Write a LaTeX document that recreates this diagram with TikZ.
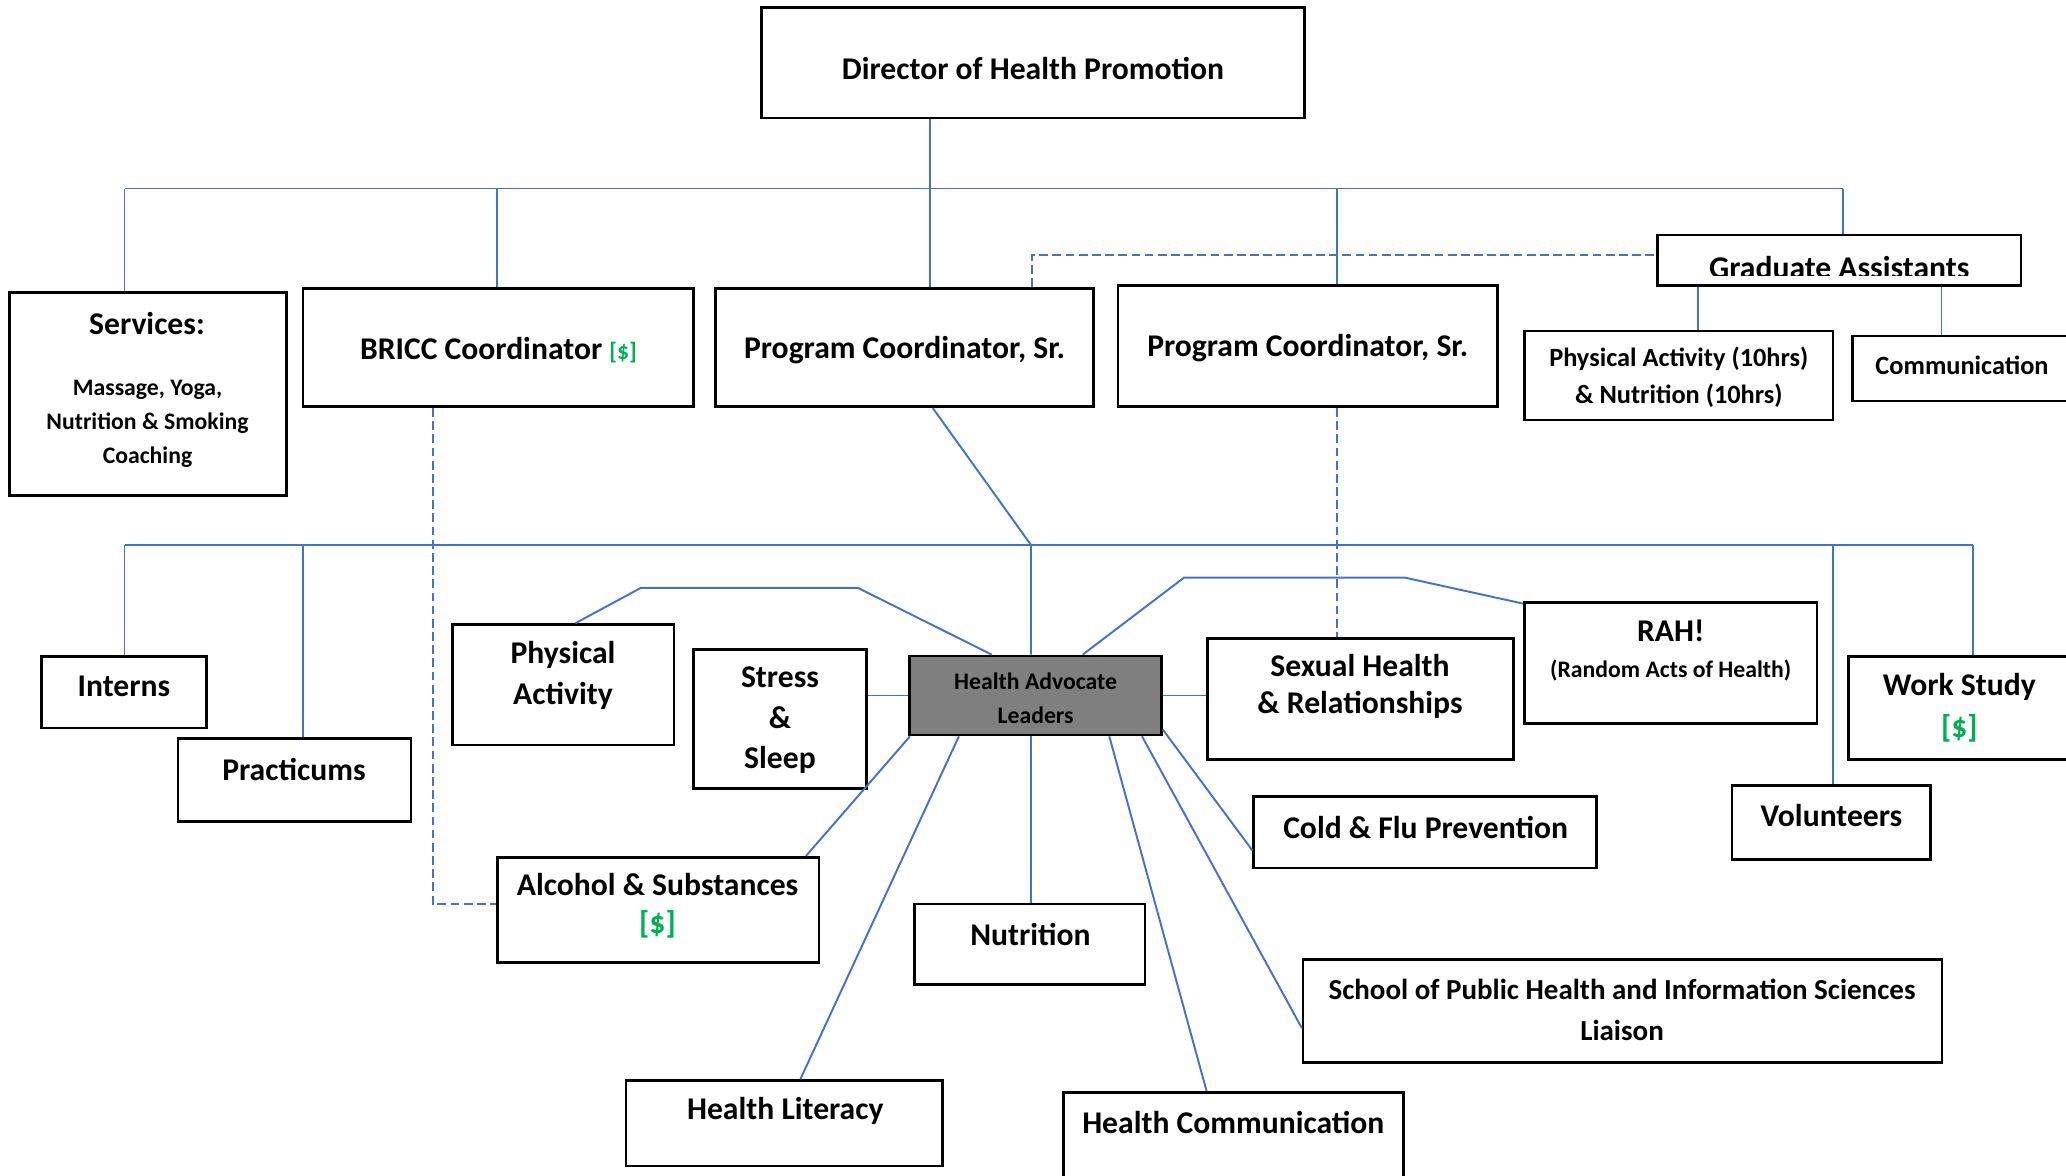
\documentclass[tikz,border=0pt]{standalone}
\usepackage{fontspec}
\setmainfont{Carlito}
\usetikzlibrary{fit}

\definecolor{linkblue}{HTML}{4472C4}
\definecolor{feegreen}{HTML}{00B050}
\definecolor{leadgray}{HTML}{7F7F7F}
\newcommand{\fee}{{\color{feegreen}[\$]}}

\tikzset{
  box/.style={draw=black, line width=1.5pt, fill=white, inner sep=0pt},
  link/.style={draw=linkblue, line width=1.1pt},
  dashlink/.style={link, dash pattern=on 5pt off 2.5pt},
  txt/.style={inner sep=0pt, align=center, font=\bfseries\fontsize{18}{23}\selectfont},
  midtxt/.style={txt, font=\bfseries\fontsize{15}{21}\selectfont},
  smalltxt/.style={txt, font=\bfseries\fontsize{13.5}{19.3}\selectfont}
}

\begin{document}
\begin{tikzpicture}[x=0.02cm, y=-0.02cm]
\useasboundingbox (0,0) rectangle (2066,1176);

% staff boxes
\node[box, fit={(761.6,7.3) (1304.4,118)}] (dir) {};
\node[box, fit={(9.2,292.7) (286.6,495.7)}] (srv) {};
\node[box, fit={(303,288.3) (693.7,406.7)}] (bricc) {};
\node[box, fit={(715.5,288.3) (1093.6,406.7)}] (pca) {};
\node[box, fit={(1118,285.7) (1497.5,406.7)}] (pcb) {};
\node[box, fit={(1657.5,235) (2021,285.7)}] (ga) {};
\node[box, fit={(1524.5,331) (1833,420)}] (gpa) {};
\node[box, fit={(1852.5,336) (2071.5,401)}] (gcom) {};

\node[txt] (dirtxt) at (1033,68.5) {Director of Health Promotion};
\node[txt] (srvhead) at (147,324) {Services:};
\node[smalltxt] (srvtxt) at (147.5,423.6) {Massage, Yoga,\\Nutrition \& Smoking\\Coaching};
\node[txt] (brictxt) at (498.4,350.5) {BRICC Coordinator {\fontsize{13.5}{16}\selectfont\fee}};
\node[txt] (pcatxt) at (904.6,350.5) {Program Coordinator, Sr.};
\node[txt] (pcbtxt) at (1307.8,347.8) {Program Coordinator, Sr.};
\begin{scope}
  \clip (1657.5,235) rectangle (2021,275);
  \node[txt, anchor=base] (gatxt) at (1839.3,278) {Graduate Assistants};
\end{scope}
\node[midtxt] (gpatxt) at (1678.8,376.9) {Physical Activity (10hrs)\\\& Nutrition (10hrs)};
\node[midtxt] (gcomtxt) at (1962,365) {Communication};

% student boxes
\node[box, fit={(41.5,656.4) (206.2,727.9)}] (intn) {};
\node[box, fit={(177.9,738.8) (411,821.6)}] (prac) {};
\node[box, fit={(452.6,624.6) (674,745.1)}] (phys) {};
\node[box, fit={(693.7,649.7) (866.3,788.2)}] (stress) {};
\node[box, fill=leadgray, fit={(909.8,656) (1161.5,735)}] (hal) {};
\node[box, fit={(1207.6,638.8) (1513.3,759.7)}] (sex) {};
\node[box, fit={(1524.5,602.8) (1817,723.7)}] (rah) {};
\node[box, fit={(1848.6,656.4) (2070,759.3)}] (work) {};
\node[box, fit={(1732,785.7) (1930.3,859.7)}] (vol) {};
\node[box, fit={(1253.7,796.5) (1596.3,868.1)}] (cold) {};
\node[box, fit={(497.4,857.2) (818.9,962.2)}] (alc) {};
\node[box, fit={(914.4,904) (1145,984.4)}] (nut) {};
\node[box, fit={(1303.1,959.7) (1942.1,1062.6)}] (sph) {};
\node[box, fit={(625.9,1080.6) (942.7,1166)}] (lit) {};
\node[box, fit={(1063.3,1092.3) (1403.2,1190)}] (hcom) {};

\node[txt] (inttxt) at (123.9,686.5) {Interns};
\node[txt] (practxt) at (294,769.5) {Practicums};
\node[txt] (phystxt) at (563,675.3) {Physical\\Activity};
\node[txt] (strtxt) at (780,720.3) {Stress\\\&\\Sleep};
\node[smalltxt] (haltxt) at (1035.6,698.4) {Health Advocate\\Leaders};
\node[txt, font=\bfseries\fontsize{18}{21}\selectfont] (sextxt) at (1360,686.5) {Sexual Health\\\& Relationships};
\node[txt] (rahtxt) at (1670.7,631.1) {RAH!};
\node[smalltxt] (rahsub) at (1670.7,670.7) {(Random Acts of Health)};
\node[txt, font=\bfseries\fontsize{18}{24}\selectfont] (worktxt) at (1959.3,707.5) {Work Study\\\fee};
\node[txt] (voltxt) at (1831.5,815.6) {Volunteers};
\node[txt] (coldtxt) at (1425.6,827.5) {Cold \& Flu Prevention};
\node[txt, font=\bfseries\fontsize{18}{21.7}\selectfont] (alctxt) at (657.5,905.9) {Alcohol \& Substances\\\fee};
\node[txt] (nuttxt) at (1030.4,934.2) {Nutrition};
\node[txt, font=\bfseries\fontsize{16.5}{23.2}\selectfont] (sphtxt) at (1622,1010) {School of Public Health and Information Sciences\\Liaison};
\node[txt] (littxt) at (785.3,1110.7) {Health Literacy};
\node[txt] (hcomtxt) at (1233.3,1122.6) {Health Communication};

% upper tree
\coordinate (tl) at (124.5,188.5);
\coordinate (tb) at (496.7,188.5);
\coordinate (tp) at (929.6,188.5);
\coordinate (tq) at (1336.7,188.5);
\coordinate (tr) at (1843.3,188.5);
\draw[link] (tl) -- (tr);
\draw[link] (tl) -- (tl |- srv.north);
\draw[link] (tb) -- (tb |- bricc.north);
\draw[link] (tp |- dir.south) -- (tp |- pca.north);
\draw[link] (tq) -- (tq |- pcb.north);
\draw[link] (tr) -- (tr |- ga.north);

\coordinate (gx) at (1698.4,300);
\coordinate (gy) at (1941.5,300);
\draw[link] (gx |- ga.south) -- (gx |- gpa.north);
\draw[link] (gy |- ga.south) -- (gy |- gcom.north);

% dotted reporting lines
\coordinate (da) at (1031.7,255);
\coordinate (db) at (432.8,904.1);
\draw[dashlink] (da |- pca.north) -- (da) -- (da -| ga.west);
\draw[dashlink] (db |- bricc.south) -- (db) -- (db -| alc.west);
\draw[dashlink] (tq |- pcb.south) -- (tq |- sex.north);

% lower tree
\coordinate (j1) at (1031,545);
\coordinate (ml) at (124.5,545);
\coordinate (mp) at (303,545);
\coordinate (mv) at (1832.8,545);
\coordinate (mr) at (1973,545);
\draw[link] (pca.295) -- (j1) -- (j1 |- hal.north);
\draw[link] (ml) -- (mr);
\draw[link] (ml) -- (ml |- intn.north);
\draw[link] (mp) -- (mp |- prac.north);
\draw[link] (mv) -- (mv |- vol.north);
\draw[link] (mr) -- (mr |- work.north);

% health advocate teams
\coordinate (pa1) at (857.7,587.8);
\coordinate (pa2) at (641,587.8);
\coordinate (ra1) at (1183.9,577.7);
\coordinate (ra2) at (1405.2,577.7);
\draw[link] (hal.137) -- (pa1) -- (pa2) -- (phys.79);
\draw[link] (hal.41) -- (ra1) -- (ra2) -- (rah.158);
\draw[link] (hal.west) -- (hal.west -| stress.east);
\draw[link] (hal.east) -- (hal.east -| sex.west);
\draw[link] (hal.198) -- (alc.20);
\draw[link] (hal.208) -- (lit.70);
\draw[link] (j1 |- hal.south) -- (j1 |- nut.north);
\draw[link] (hal.331) -- (hcom.118);
\draw[link] (hal.339) -- (sph.183);
\draw[link] (hal.345) -- (cold.186);
\end{tikzpicture}
\end{document}
